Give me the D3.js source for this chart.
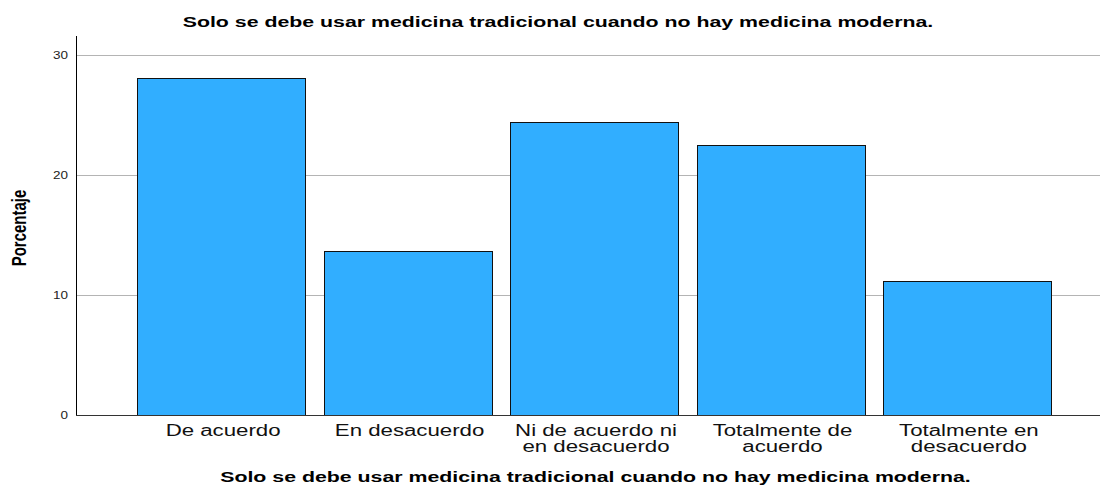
<!DOCTYPE html>
<html>
<head>
<meta charset="utf-8">
<script src="https://cdn.jsdelivr.net/npm/d3@7"></script>
<style>
  body { margin: 0; background: #fff; }
  svg { display: block; font-family: "Liberation Sans", Arial, sans-serif; }
</style>
</head>
<body>
<svg id="chart" width="1100" height="485"></svg>
<script>
const categories = [
  "De acuerdo",
  "En desacuerdo",
  "Ni de acuerdo ni en desacuerdo",
  "Totalmente de acuerdo",
  "Totalmente en desacuerdo"
];
const percentages = [28.1, 13.7, 24.4, 22.5, 11.2];
const yTicks = [0, 10, 20, 30];

const TITLE = "Solo se debe usar medicina tradicional cuando no hay medicina moderna.";
const Y_LABEL = "Porcentaje";

const svg = d3.select("#chart");

// the source picture is stretched sideways, so text is too
const STRETCH = { title: 1.47, label: 1.39, tick: 1.35, yTitle: 1.4 };

const plot = { left: 76, right: 1100, top: 36, bottom: 415 };

const x = d3.scaleBand()
  .domain(categories)
  .range([85, 1103])
  .paddingInner(0.1)
  .paddingOuter(0.28);

const y = d3.scaleLinear()
  .domain([0, 31.6])
  .range([plot.bottom, plot.top]);

// gridlines
svg.append("g")
  .selectAll("line")
  .data(yTicks.filter(d => d > 0))
  .join("line")
  .attr("x1", plot.left)
  .attr("x2", plot.right)
  .attr("y1", d => Math.round(y(d)) + 0.5)
  .attr("y2", d => Math.round(y(d)) + 0.5)
  .attr("stroke", "#b4b4b4")
  .attr("stroke-width", 1);

// bars
svg.append("g")
  .selectAll("rect")
  .data(categories)
  .join("rect")
  .attr("x", d => Math.round(x(d)) + 0.5)
  .attr("y", (d, i) => Math.round(y(percentages[i])) + 0.5)
  .attr("width", Math.round(x.bandwidth()))
  .attr("height", (d, i) => Math.round(y(0)) - Math.round(y(percentages[i])))
  .attr("fill", "#31aeff")
  .attr("stroke", "#111")
  .attr("stroke-width", 1);

// axes lines
svg.append("line")
  .attr("x1", plot.left + 0.5).attr("x2", plot.left + 0.5)
  .attr("y1", plot.top).attr("y2", plot.bottom + 0.5)
  .attr("stroke", "#000");
svg.append("line")
  .attr("x1", plot.left).attr("x2", plot.right)
  .attr("y1", plot.bottom + 0.5).attr("y2", plot.bottom + 0.5)
  .attr("stroke", "#333");

// y tick labels
svg.append("g")
  .selectAll("text")
  .data(yTicks)
  .join("text")
  .attr("transform", d => `translate(68,${y(d) + 4}) scale(${STRETCH.tick},1)`)
  .attr("text-anchor", "end")
  .attr("font-size", 10)
  .attr("fill", "#222")
  .text(d => d);

// category labels, wrapped to the band
const labels = svg.append("g")
  .selectAll("text")
  .data(categories)
  .join("text")
  .attr("transform", d => `translate(${x(d) + x.bandwidth() / 2 + 2},436) scale(${STRETCH.label},1)`)
  .attr("text-anchor", "middle")
  .attr("font-size", 16)
  .attr("fill", "#111");

labels.each(function(d) {
  const text = d3.select(this);
  const maxW = x.step() * 0.95 / STRETCH.label;
  const words = d.split(" ");
  const lines = [];
  let line = [];
  const probe = text.append("tspan");
  for (const w of words) {
    probe.text(line.concat(w).join(" "));
    if (line.length && probe.node().getComputedTextLength() > maxW) {
      lines.push(line.join(" "));
      line = [w];
    } else {
      line.push(w);
    }
  }
  lines.push(line.join(" "));
  probe.remove();
  lines.forEach((l, i) => {
    text.append("tspan").attr("x", 0).attr("dy", i === 0 ? 0 : 16).text(l);
  });
});

// titles
svg.append("text")
  .attr("transform", `translate(558,27) scale(${STRETCH.title},1)`)
  .attr("text-anchor", "middle")
  .attr("font-size", 14.5)
  .attr("font-weight", "bold")
  .text(TITLE);

svg.append("text")
  .attr("transform", `translate(595.5,482) scale(${STRETCH.title},1)`)
  .attr("text-anchor", "middle")
  .attr("font-size", 14.5)
  .attr("font-weight", "bold")
  .text(TITLE);

svg.append("text")
  .attr("transform", `translate(26,228) scale(${STRETCH.yTitle},1) rotate(-90)`)
  .attr("text-anchor", "middle")
  .attr("font-size", 15)
  .attr("font-weight", "bold")
  .text(Y_LABEL);
</script>
</body>
</html>
